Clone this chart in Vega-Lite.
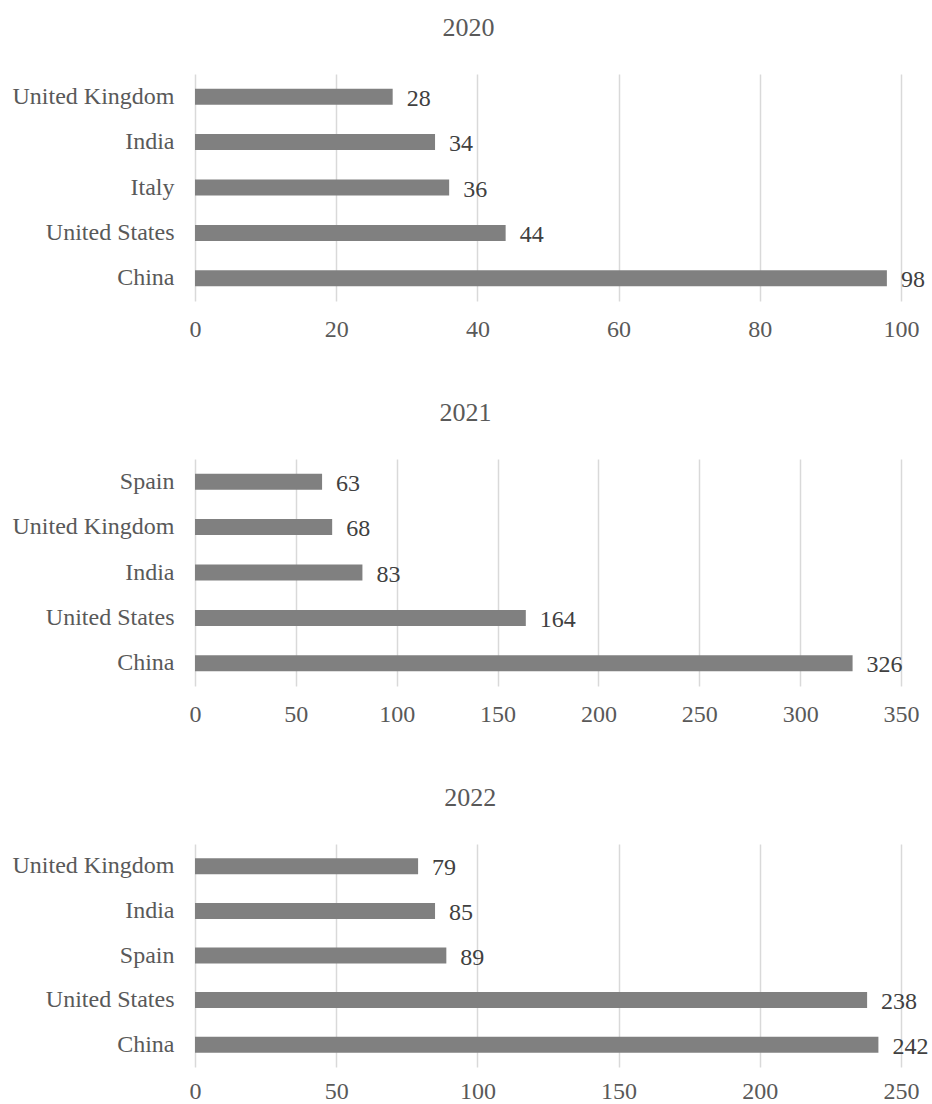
{
  "$schema": "https://vega.github.io/schema/vega-lite/v6.json",
  "padding": {"left": 12, "top": 15, "right": 5, "bottom": 0},
  "background": "white",
  "spacing": 59,
  "config": {
    "font": "Liberation Serif",
    "view": {"stroke": null},
    "title": {"font": "Liberation Serif", "fontSize": 26, "fontWeight": "normal", "color": "#595959", "offset": 33, "anchor": "middle", "frame": "bounds"},
    "axis": {"labelFont": "Liberation Serif", "labelFontSize": 24, "labelColor": "#595959", "ticks": false, "domain": false, "title": null}
  },
  "data": {"values": [
    {"year": "2020", "country": "United Kingdom", "value": 28},
    {"year": "2020", "country": "India", "value": 34},
    {"year": "2020", "country": "Italy", "value": 36},
    {"year": "2020", "country": "United States", "value": 44},
    {"year": "2020", "country": "China", "value": 98},
    {"year": "2021", "country": "Spain", "value": 63},
    {"year": "2021", "country": "United Kingdom", "value": 68},
    {"year": "2021", "country": "India", "value": 83},
    {"year": "2021", "country": "United States", "value": 164},
    {"year": "2021", "country": "China", "value": 326},
    {"year": "2022", "country": "United Kingdom", "value": 79},
    {"year": "2022", "country": "India", "value": 85},
    {"year": "2022", "country": "Spain", "value": 89},
    {"year": "2022", "country": "United States", "value": 238},
    {"year": "2022", "country": "China", "value": 242}
  ]},
  "vconcat": [
    {
      "title": "2020",
      "width": 706, "height": 227,
      "transform": [{"filter": "datum.year == '2020'"}],
      "encoding": {
        "y": {"field": "country", "type": "nominal", "sort": {"field": "value", "order": "ascending"}, "axis": {"grid": false, "labelPadding": 21}},
        "x": {"field": "value", "type": "quantitative", "scale": {"domain": [0, 100], "nice": false}, "axis": {"values": [0, 20, 40, 60, 80, 100], "grid": true, "gridColor": "#d9d9d9", "gridWidth": 1.5, "labelPadding": 16, "labelFlush": false}}
      },
      "layer": [
        {"mark": {"type": "bar", "color": "#808080", "size": 16}},
        {"mark": {"type": "text", "align": "left", "baseline": "middle", "dx": 14, "dy": 2, "fontSize": 24, "color": "#404040"}, "encoding": {"text": {"field": "value", "type": "quantitative"}}}
      ]
    },
    {
      "title": "2021",
      "width": 706, "height": 227,
      "transform": [{"filter": "datum.year == '2021'"}],
      "encoding": {
        "y": {"field": "country", "type": "nominal", "sort": {"field": "value", "order": "ascending"}, "axis": {"grid": false, "labelPadding": 21}},
        "x": {"field": "value", "type": "quantitative", "scale": {"domain": [0, 350], "nice": false}, "axis": {"values": [0, 50, 100, 150, 200, 250, 300, 350], "grid": true, "gridColor": "#d9d9d9", "gridWidth": 1.5, "labelPadding": 16, "labelFlush": false}}
      },
      "layer": [
        {"mark": {"type": "bar", "color": "#808080", "size": 16}},
        {"mark": {"type": "text", "align": "left", "baseline": "middle", "dx": 14, "dy": 2, "fontSize": 24, "color": "#404040"}, "encoding": {"text": {"field": "value", "type": "quantitative"}}}
      ]
    },
    {
      "title": "2022",
      "width": 706, "height": 223,
      "transform": [{"filter": "datum.year == '2022'"}],
      "encoding": {
        "y": {"field": "country", "type": "nominal", "sort": {"field": "value", "order": "ascending"}, "axis": {"grid": false, "labelPadding": 21}},
        "x": {"field": "value", "type": "quantitative", "scale": {"domain": [0, 250], "nice": false}, "axis": {"values": [0, 50, 100, 150, 200, 250], "grid": true, "gridColor": "#d9d9d9", "gridWidth": 1.5, "labelPadding": 12, "labelFlush": false}}
      },
      "layer": [
        {"mark": {"type": "bar", "color": "#808080", "size": 16}},
        {"mark": {"type": "text", "align": "left", "baseline": "middle", "dx": 14, "dy": 2, "fontSize": 24, "color": "#404040"}, "encoding": {"text": {"field": "value", "type": "quantitative"}}}
      ]
    }
  ]
}
